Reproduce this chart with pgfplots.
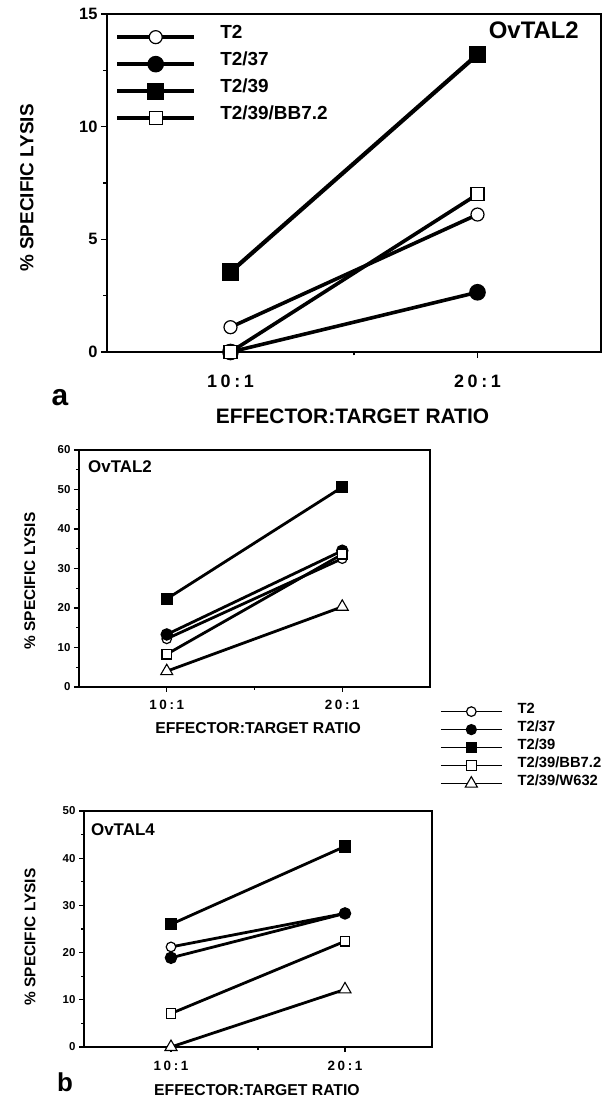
\documentclass[border=0pt]{standalone}
\usepackage{fontspec}
\setmainfont{Liberation Sans}
\newfontfamily\wide[LetterSpace=20]{Liberation Sans}
\usepackage{pgfplots}
\pgfplotsset{compat=1.18}
\newcommand{\fs}[1]{\fontsize{#1}{#1}\selectfont\bfseries}
\pgfplotsset{
  panel/.style={
    scale only axis, clip=false,
    xmin=-0.5, xmax=1.5, xtick={0,1}, minor xtick={0.5},
    xticklabels={10:1,20:1},
    tick align=outside, xtick pos=left, ytick pos=left,
    axis line style={line width=1.3bp},
    major tick length=6bp, minor tick length=3.5bp,
    every tick/.style={black, line width=1.1bp},
    /pgf/number format/assume math mode=true,
    legend cell align=left,
  },
  sT2/.style={mark=*, mark options={fill=white, solid, line width=1.2bp}},
  sT237/.style={mark=*, mark options={fill=black, solid}},
  sT239/.style={mark=square*, mark options={fill=black, solid}},
  sBB/.style={mark=square*, mark options={fill=white, solid, line width=1.2bp}},
  sW/.style={mark=triangle*, mark options={fill=white, solid, line width=1.1bp, scale=1.45}},
}
\begin{document}
\begin{tikzpicture}
\path[use as bounding box] (0,0) rectangle (603bp,1099bp);

% ---------------- panel a ----------------
\begin{axis}[panel, at={(107bp,747bp)}, anchor=south west,
  width=494bp, height=338bp,
  ymin=0, ymax=15, ytick={0,5,10,15}, minor ytick={2.5,7.5,12.5},
  yticklabel style={font=\fs{16.5}},
  xticklabel style={font=\wide\fs{18}, yshift=-13bp},
  every axis y label/.style={at={(axis description cs:-0.162,0.485)}, rotate=90, anchor=center},
  every axis x label/.style={at={(axis description cs:0.497,-0.19)}, anchor=center},
  ylabel={\fs{19}\% SPECIFIC LYSIS},
  xlabel={\fs{21}EFFECTOR:TARGET RATIO},
  every axis plot/.append style={line width=3.6bp, mark size=6.5bp},
  legend image code/.code={\draw[mark repeat=2,mark phase=2] plot coordinates {(0bp,0bp) (38.5bp,0bp) (77bp,0bp)};},
  legend style={draw=none, fill=none, inner sep=0pt, at={(0.016,0.972)}, anchor=north west,
    font=\fs{19}, row sep=0bp,
    nodes={inner sep=0bp, text height=15bp, text depth=12bp},
    /tikz/every odd column/.append style={column sep=24bp}},
]
\addplot[sT2] coordinates {(0,1.1) (1,6.1)};
\addlegendentry{T2}
\addplot[sT237] coordinates {(0,0) (1,2.65)};
\addlegendentry{T2/37}
\addplot[sT239, line width=4.2bp] coordinates {(0,3.55) (1,13.2)};
\addlegendentry{T2/39}
\addplot[sBB] coordinates {(0,0) (1,7.0)};
\addlegendentry{T2/39/BB7.2}
\node[font=\fs{24}] at (rel axis cs:0.864,0.953) {OvTAL2};
\end{axis}
\node[font=\fs{30}] at (60bp,701bp) {a};

% ---------------- panel b upper ----------------
\begin{axis}[panel, at={(79bp,412bp)}, anchor=south west,
  width=351bp, height=237bp,
  ymin=0, ymax=60, ytick={0,10,...,60}, minor ytick={5,15,...,55},
  major tick length=5bp, minor tick length=3bp,
  yticklabel style={font=\fs{11.5}},
  xticklabel style={font=\wide\fs{13.5}, yshift=-5bp},
  every axis y label/.style={at={(axis description cs:-0.14,0.447)}, rotate=90, anchor=center},
  every axis x label/.style={at={(axis description cs:0.51,-0.173)}, anchor=center},
  ylabel={\fs{15.5}\% SPECIFIC LYSIS},
  xlabel={\fs{15.8}EFFECTOR:TARGET RATIO},
  every axis plot/.append style={line width=2.8bp, mark size=4.8bp},
  legend image code/.code={\draw[mark repeat=2,mark phase=2, line width=1.6bp] plot coordinates {(0bp,0bp) (30.5bp,0bp) (61bp,0bp)};},
  legend style={draw=none, fill=none, inner sep=0pt, at={(1.028,-0.065)}, anchor=north west,
    font=\fs{14.8}, row sep=0bp,
    nodes={inner sep=0bp, text height=11bp, text depth=7bp},
    /tikz/every odd column/.append style={column sep=15bp}},
]
\addplot[sT2] coordinates {(0,12.2) (1,32.5)};
\addlegendentry{T2}
\addplot[sT237] coordinates {(0,13.3) (1,34.5)};
\addlegendentry{T2/37}
\addplot[sT239] coordinates {(0,22.3) (1,50.6)};
\addlegendentry{T2/39}
\addplot[sBB] coordinates {(0,8.3) (1,33.6)};
\addlegendentry{T2/39/BB7.2}
\addplot[sW] coordinates {(0,4.0) (1,20.3)};
\addlegendentry{T2/39/W632}
\node[font=\fs{17}] at (rel axis cs:0.117,0.928) {OvTAL2};
\end{axis}

% ---------------- panel b lower ----------------
\begin{axis}[panel, at={(84bp,52bp)}, anchor=south west,
  width=348bp, height=236bp,
  ymin=0, ymax=50, ytick={0,10,...,50}, minor ytick={5,15,...,45},
  major tick length=5bp, minor tick length=3bp,
  yticklabel style={font=\fs{11.5}},
  xticklabel style={font=\wide\fs{13.5}, yshift=-6bp},
  every axis y label/.style={at={(axis description cs:-0.155,0.466)}, rotate=90, anchor=center},
  every axis x label/.style={at={(axis description cs:0.497,-0.182)}, anchor=center},
  ylabel={\fs{15.5}\% SPECIFIC LYSIS},
  xlabel={\fs{15.8}EFFECTOR:TARGET RATIO},
  every axis plot/.append style={line width=2.8bp, mark size=4.8bp},
]
\addplot[sT2] coordinates {(0,21.2) (1,28.3)};
\addplot[sT237] coordinates {(0,18.9) (1,28.3)};
\addplot[sT239] coordinates {(0,26.0) (1,42.5)};
\addplot[sBB] coordinates {(0,7.1) (1,22.4)};
\addplot[sW] coordinates {(0,0) (1,12.2)};
\node[font=\fs{17}] at (rel axis cs:0.112,0.919) {OvTAL4};
\end{axis}
\node[font=\fs{26}] at (65bp,17bp) {b};
\end{tikzpicture}
\end{document}
